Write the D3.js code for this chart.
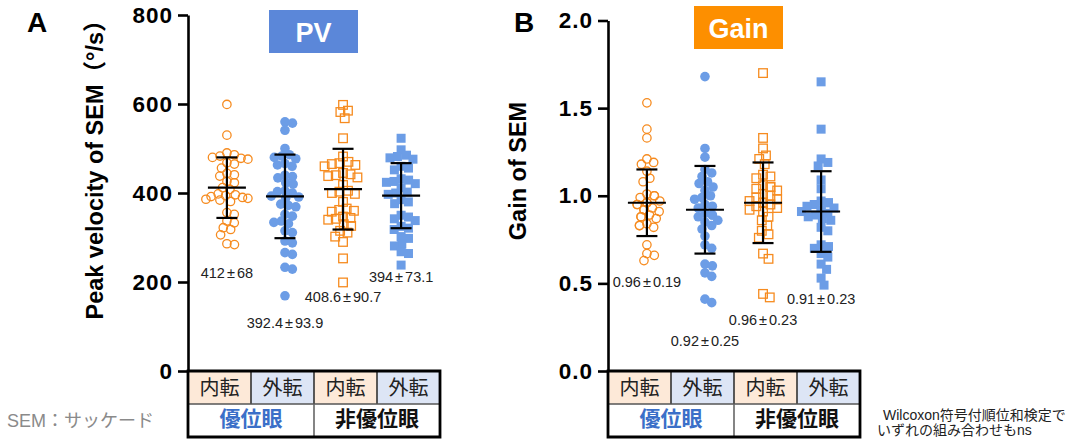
<!DOCTYPE html>
<html>
<head>
<meta charset="utf-8">
<script src="https://cdn.jsdelivr.net/npm/d3@7"></script>
<style>
body { margin: 0; background: #fff; }
svg { display: block; }
</style>
</head>
<body>
<svg id="chart" width="1072" height="441"></svg>
<script>
// categories and groups
var categories = ["内転", "外転", "内転", "外転"];
var eyeGroups = ["優位眼", "非優位眼"];

// PV (peak velocity, deg/s)
var pvTicks = [0, 200, 400, 600, 800];
var pvValues = [
    [599, 530, 490, 486, 483, 480, 478, 476, 468, 465, 456, 444, 441, 438, 426, 423, 412, 408, 398, 396, 394, 392, 390, 388, 386, 384, 381, 356, 352, 337, 333, 322, 318, 306, 286, 284],
    [560, 557, 541, 500, 486, 483, 480, 477, 466, 463, 460, 440, 437, 434, 423, 420, 405, 403, 400, 393, 391, 388, 375, 372, 369, 352, 348, 337, 334, 331, 315, 311, 292, 288, 266, 262, 233, 229, 169],
    [598, 585, 582, 568, 523, 482, 470, 467, 465, 463, 460, 445, 442, 440, 438, 435, 418, 405, 403, 400, 398, 380, 365, 362, 360, 358, 347, 344, 342, 340, 330, 326, 315, 311, 302, 290, 253, 199],
    [523, 497, 485, 482, 479, 476, 460, 456, 452, 432, 429, 426, 424, 421, 412, 402, 400, 397, 385, 380, 376, 350, 346, 342, 338, 325, 321, 318, 302, 298, 285, 281, 268, 264, 238]
];
var pvMean = [412, 392.4, 408.6, 394];
var pvSD = [68, 93.9, 90.7, 73.1];
var pvLabels = ["412±68", "392.4±93.9", "408.6±90.7", "394±73.1"];
var pvLabelAt = [220, 108, 166, 211];

// Gain
var gainTicks = [0, 0.5, 1.0, 1.5, 2.0];
var gainValues = [
    [1.53, 1.38, 1.33, 1.21, 1.19, 1.18, 1.14, 1.10, 1.08, 1.01, 1.00, 1.00, 0.99, 0.97, 0.96, 0.96, 0.95, 0.95, 0.93, 0.92, 0.92, 0.91, 0.89, 0.88, 0.88, 0.87, 0.84, 0.83, 0.83, 0.82, 0.72, 0.67, 0.66, 0.63],
    [1.68, 1.27, 1.22, 1.15, 1.13, 1.11, 1.08, 1.07, 1.05, 1.03, 1.00, 0.99, 0.98, 0.95, 0.94, 0.93, 0.90, 0.89, 0.89, 0.88, 0.86, 0.85, 0.83, 0.81, 0.77, 0.72, 0.70, 0.61, 0.60, 0.56, 0.54, 0.41, 0.39],
    [1.70, 1.33, 1.27, 1.23, 1.21, 1.18, 1.12, 1.11, 1.10, 1.06, 1.05, 1.05, 1.04, 1.03, 1.01, 1.00, 0.99, 0.98, 0.97, 0.96, 0.96, 0.95, 0.94, 0.93, 0.92, 0.91, 0.88, 0.86, 0.83, 0.80, 0.78, 0.76, 0.67, 0.64, 0.44, 0.42],
    [1.65, 1.38, 1.21, 1.19, 1.17, 1.09, 1.04, 0.97, 0.96, 0.96, 0.95, 0.95, 0.94, 0.93, 0.92, 0.92, 0.91, 0.90, 0.89, 0.88, 0.87, 0.86, 0.82, 0.80, 0.72, 0.71, 0.70, 0.67, 0.65, 0.61, 0.58, 0.53, 0.49]
];
var gainMean = [0.96, 0.92, 0.96, 0.91];
var gainSD = [0.19, 0.25, 0.23, 0.23];
var gainLabels = ["0.96±0.19", "0.92±0.25", "0.96±0.23", "0.91±0.23"];
var gainLabelAt = [0.51, 0.17, 0.29, 0.41];

var ORANGE = "#f68b1f", BLUE = "#6c9de6";
var LATIN = "'Liberation Sans', Arial, 'Noto Sans CJK JP', sans-serif";
var CJK = "'Noto Sans CJK JP', 'Liberation Sans', sans-serif";

var svg = d3.select("#chart");
svg.append("rect").attr("width", 1072).attr("height", 441).attr("fill", "#fff");

// simple beeswarm: place each point close to the centre, kept inside +/- maxW
function dodge(vals, y, d, maxW) {
    var placed = [];
    return vals.slice().sort(function (a, b) { return b - a; }).map(function (v) {
        var py = y(v);
        var near = placed.filter(function (p) { return Math.abs(p.y - py) < d; });
        var cands = [0];
        near.forEach(function (p) {
            var dx = Math.sqrt(d * d - (p.y - py) * (p.y - py));
            cands.push(p.x + dx, p.x - dx);
        });
        cands = cands.filter(function (c) { return Math.abs(c) <= maxW; });
        cands.sort(function (a, b) { return Math.abs(a) - Math.abs(b); });
        var gap = function (c) {
            return d3.min(near, function (p) { return Math.hypot(p.x - c, p.y - py); }) || 99;
        };
        var x = cands.find(function (c) { return gap(c) >= d - 1e-6; });
        if (x === undefined) {
            // no free spot: take the least crowded one inside the width
            var grid = d3.range(-maxW, maxW + 0.1, 2);
            x = grid[d3.maxIndex(grid, gap)];
        }
        var pt = { x: x, y: py };
        placed.push(pt);
        return pt;
    });
}

function drawPanel(o) {
    var g = svg.append("g");
    var x0 = o.x0, x1 = o.x0 + 252;
    var y = d3.scaleLinear().domain([0, o.max]).range([371, o.top]);
    var xb = d3.scaleBand().domain(d3.range(4)).range([x0, x1]);
    var xp = d3.scalePoint().domain(d3.range(4)).range([x0, x1]).padding(0.67);

    // points
    o.values.forEach(function (vals, i) {
        var cx = xp(i);
        var pts = dodge(vals, y, 7.6, 21);
        var sel = g.append("g").selectAll("*").data(pts);
        if (i == 0) {
            sel.join("circle").attr("cx", d => cx + d.x).attr("cy", d => d.y).attr("r", 4.2)
                .attr("fill", "none").attr("stroke", ORANGE).attr("stroke-width", 1.3);
        } else if (i == 1) {
            sel.join("circle").attr("cx", d => cx + d.x).attr("cy", d => d.y).attr("r", 4.8)
                .attr("fill", BLUE);
        } else if (i == 2) {
            sel.join("rect").attr("x", d => cx + d.x - 4.3).attr("y", d => d.y - 4.3)
                .attr("width", 8.6).attr("height", 8.6)
                .attr("fill", "none").attr("stroke", ORANGE).attr("stroke-width", 1.3);
        } else {
            sel.join("rect").attr("x", d => cx + d.x - 4.5).attr("y", d => d.y - 4.5)
                .attr("width", 9).attr("height", 9).attr("fill", BLUE);
        }
    });

    // mean +/- SD
    var eb = g.append("g").attr("stroke", "#000").attr("stroke-width", 2.2);
    o.mean.forEach(function (m, i) {
        var cx = xp(i), s = o.sd[i];
        eb.append("line").attr("x1", cx).attr("x2", cx).attr("y1", y(m - s)).attr("y2", y(m + s));
        eb.append("line").attr("x1", cx - 19).attr("x2", cx + 19).attr("y1", y(m)).attr("y2", y(m));
        eb.append("line").attr("x1", cx - 10.5).attr("x2", cx + 10.5).attr("y1", y(m + s)).attr("y2", y(m + s));
        eb.append("line").attr("x1", cx - 10.5).attr("x2", cx + 10.5).attr("y1", y(m - s)).attr("y2", y(m - s));
    });

    // mean±SD labels
    o.labels.forEach(function (t, i) {
        var parts = t.split("±");
        var tx = g.append("text").attr("x", xp(i)).attr("y", y(o.labelAt[i])).attr("dy", "0.35em")
            .attr("text-anchor", "middle").attr("font-family", LATIN).attr("font-size", 14.5)
            .attr("fill", "#222");
        tx.append("tspan").text(parts[0]);
        tx.append("tspan").attr("dx", 2).text("±");
        tx.append("tspan").attr("dx", 2).text(parts[1]);
    });

    // y axis
    var ax = g.append("g").attr("transform", "translate(" + x0 + ",0)")
        .call(d3.axisLeft(y).tickValues(o.ticks).tickSize(10).tickSizeOuter(0).tickPadding(5).tickFormat(o.fmt));
    ax.selectAll("path, line").attr("stroke", "#000").attr("stroke-width", 2.6);
    ax.selectAll("text").attr("font-family", LATIN).attr("font-weight", "bold")
        .attr("font-size", 22.5).attr("letter-spacing", 1).attr("fill", "#000");

    // y title
    g.append("text").attr("transform", "translate(" + o.titleX + "," + o.titleY + ") rotate(-90)")
        .attr("text-anchor", "middle").attr("font-family", LATIN).attr("font-weight", "bold")
        .attr("font-size", 23.5).attr("fill", "#000").text(o.yTitle);

    // category table under the axis
    var t = g.append("g");
    t.selectAll("rect.c").data(categories).join("rect")
        .attr("x", (d, i) => xb(i)).attr("y", 371).attr("width", xb.bandwidth()).attr("height", 33)
        .attr("fill", (d, i) => i % 2 == 0 ? "#fde9d8" : "#dde5f5");
    t.selectAll("text.c").data(categories).join("text")
        .attr("x", (d, i) => xb(i) + xb.bandwidth() / 2).attr("y", 388).attr("dy", "0.35em")
        .attr("text-anchor", "middle").attr("font-family", CJK).attr("font-size", 20).attr("fill", "#222")
        .text(d => d);
    t.selectAll("text.e").data(eyeGroups).join("text")
        .attr("x", (d, i) => xb(i * 2) + xb.bandwidth()).attr("y", 419).attr("dy", "0.35em")
        .attr("text-anchor", "middle").attr("font-family", CJK).attr("font-weight", "bold")
        .attr("font-size", 21).attr("fill", (d, i) => i == 0 ? "#3b6fc8" : "#111")
        .text(d => d);
    [1, 2, 3].forEach(function (i) {
        t.append("line").attr("x1", xb(i)).attr("x2", xb(i)).attr("y1", 371).attr("y2", 404)
            .attr("stroke", "#333").attr("stroke-width", 1.6);
    });
    t.append("line").attr("x1", x0).attr("x2", x1).attr("y1", 404).attr("y2", 404)
        .attr("stroke", "#555").attr("stroke-width", 1.6);
    t.append("line").attr("x1", xb(2)).attr("x2", xb(2)).attr("y1", 404).attr("y2", 437)
        .attr("stroke", "#666").attr("stroke-width", 1.6);
    t.append("path").attr("d", "M" + x0 + ",371H" + x1 + "V437H" + x0 + "Z")
        .attr("fill", "none").attr("stroke", "#000").attr("stroke-width", 2.8);

    // header box and panel letter
    g.append("rect").attr("x", o.boxX).attr("y", o.boxY).attr("width", 89).attr("height", 43).attr("fill", o.boxColor);
    g.append("text").attr("x", o.boxX + 44.5).attr("y", o.boxY + 32).attr("text-anchor", "middle")
        .attr("font-family", LATIN).attr("font-weight", "bold").attr("font-size", 27).attr("fill", "#fff")
        .text(o.boxText);
    g.append("text").attr("x", o.letterX).attr("y", 32).attr("font-family", LATIN).attr("font-weight", "bold")
        .attr("font-size", 28).attr("fill", "#000").text(o.letter);
}

drawPanel({
    x0: 188, top: 15, max: 800, ticks: pvTicks, fmt: d3.format("d"),
    values: pvValues, mean: pvMean, sd: pvSD, labels: pvLabels, labelAt: pvLabelAt,
    yTitle: "Peak velocity of SEM（°/s）", titleX: 103, titleY: 164,
    boxX: 269, boxY: 10, boxColor: "#5b87d9", boxText: "PV", letter: "A", letterX: 27
});

drawPanel({
    x0: 608, top: 20.5, max: 2, ticks: gainTicks, fmt: d3.format(".1f"),
    values: gainValues, mean: gainMean, sd: gainSD, labels: gainLabels, labelAt: gainLabelAt,
    yTitle: "Gain of SEM", titleX: 526, titleY: 171,
    boxX: 694, boxY: 6, boxColor: "#fd8f00", boxText: "Gain", letter: "B", letterX: 514
});

// notes
svg.append("text").attr("x", 7).attr("y", 421).attr("dy", "0.35em")
    .attr("font-family", LATIN).attr("font-size", 18).attr("fill", "#8a8a8a").text("SEM：サッケード");
svg.append("text").attr("x", 883).attr("y", 415).attr("dy", "0.35em")
    .attr("font-family", LATIN).attr("font-size", 14).attr("fill", "#222").text("Wilcoxon符号付順位和検定で");
svg.append("text").attr("x", 877).attr("y", 430).attr("dy", "0.35em")
    .attr("font-family", LATIN).attr("font-size", 14).attr("fill", "#222").text("いずれの組み合わせもns");
</script>
</body>
</html>
